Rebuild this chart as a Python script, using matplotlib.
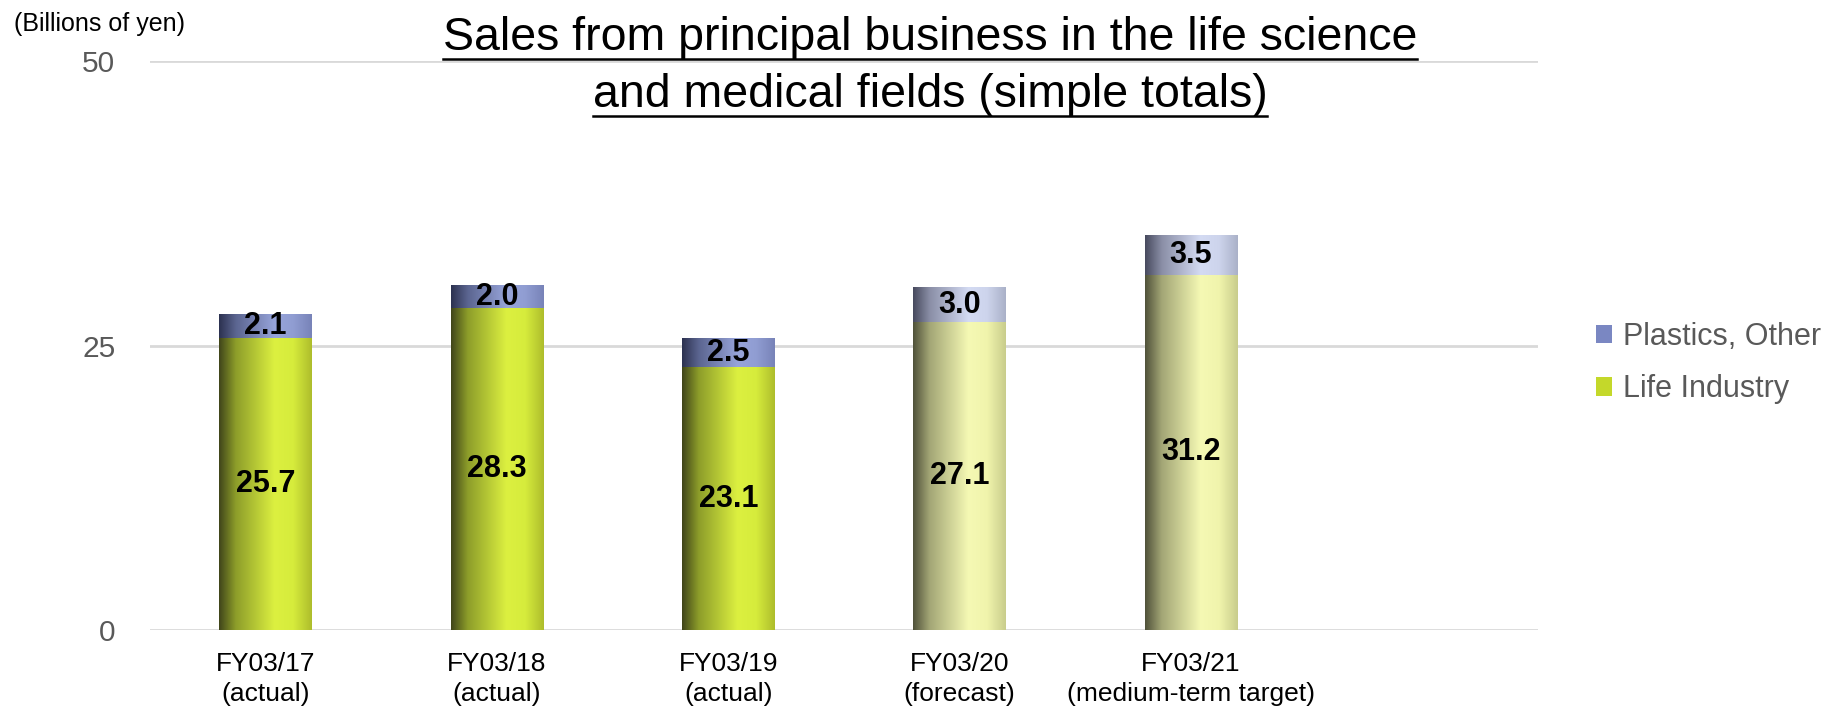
import numpy as np
import matplotlib
matplotlib.use("Agg")
import matplotlib.pyplot as plt
from matplotlib.colors import LinearSegmentedColormap
from matplotlib.patches import Patch
from matplotlib.lines import Line2D

plt.rcParams['font.family'] = ['Liberation Sans', 'DejaVu Sans']

categories = ["FY03/17\n(actual)", "FY03/18\n(actual)", "FY03/19\n(actual)",
              "FY03/20\n(forecast)", "FY03/21\n(medium-term target)"]
life_industry = [25.7, 28.3, 23.1, 27.1, 31.2]
plastics_other = [2.1, 2.0, 2.5, 3.0, 3.5]
is_forecast = [False, False, False, True, True]

# gradient stops (left edge -> right edge of each bar)
stops = [0.0, 0.18, 0.6, 0.8, 1.0]
grad_life = ["#40451a", "#8d9d2a", "#dcf040", "#d6ec3c", "#aebd2c"]
grad_life_fc = ["#50523a", "#a3a676", "#f5f9b4", "#f0f4ac", "#c9cd8c"]
grad_plas = ["#2c3150", "#5b6590", "#97a4da", "#909dd2", "#7883b8"]
grad_plas_fc = ["#474a5e", "#8a8ea6", "#d4dbf3", "#cdd4ec", "#aab1c8"]


def cmap_of(cols):
    return LinearSegmentedColormap.from_list("g", list(zip(stops, cols)))


W, H = 1841, 709
fig = plt.figure(figsize=(W / 100, H / 100), dpi=100)
ax = fig.add_axes([150 / W, 79 / H, 1388 / W, 569 / H])

x = np.arange(len(categories))
w = 0.4
b1 = ax.bar(x, life_industry, w, color="none", zorder=3)
b2 = ax.bar(x, plastics_other, w, bottom=life_industry, color="none", zorder=3)

grad = np.linspace(0, 1, 256).reshape(1, -1)
for i in range(len(categories)):
    for rect, cols in ((b1[i], grad_life_fc if is_forecast[i] else grad_life),
                       (b2[i], grad_plas_fc if is_forecast[i] else grad_plas)):
        x0, y0 = rect.get_x(), rect.get_y()
        ax.imshow(grad, cmap=cmap_of(cols), aspect="auto", zorder=3,
                  extent=(x0, x0 + rect.get_width(), y0, y0 + rect.get_height()))
    ax.text(x[i], life_industry[i] / 2, f"{life_industry[i]:.1f}", ha="center",
            va="center", fontsize=22, fontweight="bold", zorder=5)
    ax.text(x[i], life_industry[i] + plastics_other[i] / 2, f"{plastics_other[i]:.1f}",
            ha="center", va="center", fontsize=22, fontweight="bold", zorder=5)

ax.set_xlim(-0.5, 5.5)
ax.set_ylim(0, 50)
ax.set_yticks([0, 25, 50])
ax.set_xticks(x)
ax.set_xticklabels(categories, fontsize=19, linespacing=1.3)
ax.tick_params(axis="y", labelsize=21.5, labelcolor="#595959", length=0, pad=25)
ax.tick_params(axis="x", length=0, pad=16)
ax.grid(axis="y", color="#d9d9d9", linewidth=2, zorder=0)
for s in ax.spines.values():
    s.set_visible(False)

fig.text(14 / W, 1 - 24 / H, "(Billions of yen)", fontsize=18, va="center", ha="left")

handles = [Patch(facecolor="#7a87c2", label="Plastics, Other"),
           Patch(facecolor="#c4d82a", label="Life Industry")]
leg = fig.legend(handles=handles, loc="center left", bbox_to_anchor=(1568 / W, 1 - 363 / H),
                 frameon=False, fontsize=22, handlelength=0.55, handleheight=0.55,
                 handletextpad=0.35, labelspacing=0.75)
for t in leg.get_texts():
    t.set_color("#595959")

title_lines = ["Sales from principal business in the life science",
               "and medical fields (simple totals)"]
title_base = [50, 107]
tts = [fig.text(930 / W, 1 - yy / H, s, fontsize=33.5, ha="center", va="baseline")
       for s, yy in zip(title_lines, title_base)]
fig.canvas.draw()
r = fig.canvas.get_renderer()
for t, yy in zip(tts, title_base):
    bb = t.get_window_extent(r)
    yl = 1 - (yy + 9) / H
    fig.add_artist(Line2D([bb.x0 / W, bb.x1 / W], [yl, yl],
                          transform=fig.transFigure, color="black", linewidth=1.8))

fig.savefig("out.png", dpi=100)
